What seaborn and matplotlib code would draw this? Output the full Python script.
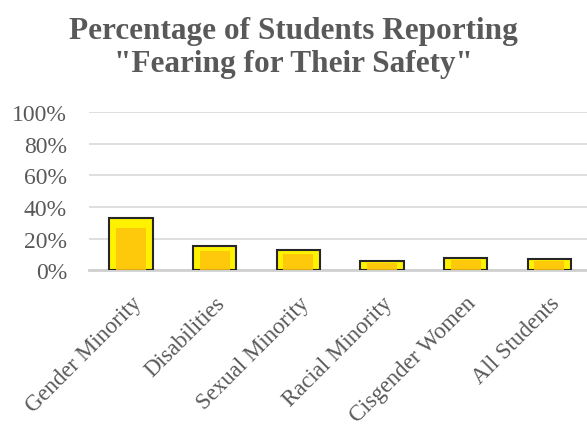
import matplotlib
matplotlib.use("Agg")
import matplotlib.pyplot as plt
import seaborn as sns
import pandas as pd
from matplotlib.ticker import PercentFormatter

categories = ["Gender Minority", "Disabilities", "Sexual Minority",
              "Racial Minority", "Cisgender Women", "All Students"]
values = [0.33, 0.15, 0.13, 0.06, 0.08, 0.07]
yticks = [0, 0.2, 0.4, 0.6, 0.8, 1.0]

df = pd.DataFrame({"cat": categories, "val": values})

sns.set_theme(style="white")
plt.rcParams['font.family'] = ['Liberation Serif', 'DejaVu Serif']

fig = plt.figure(figsize=(5.87, 4.27), dpi=100)
ax = fig.add_axes([0.152, 0.365, 0.855, 0.37])

sns.barplot(data=df, x="cat", y="val", ax=ax, color="#FFF200",
            width=0.52, edgecolor="#262626", linewidth=1.5,
            saturation=1, zorder=3)
# inner bevel shading
inner = df.assign(val=df["val"] * 0.8)
sns.barplot(data=inner, x="cat", y="val", ax=ax, color="#FFC20E",
            width=0.36, linewidth=0, saturation=1, zorder=4, alpha=0.85)

ax.set_ylim(0, 1.0)
ax.set_yticks(yticks)
ax.yaxis.set_major_formatter(PercentFormatter(1.0, decimals=0))
ax.set_xlim(-0.5, len(categories) - 0.5)
ax.grid(axis="y", color="#D9D9D9", linewidth=1.2, zorder=0)
ax.set_axisbelow(True)
for s in ["top", "right", "left"]:
    ax.spines[s].set_visible(False)
ax.spines["bottom"].set_color("#D0D0D0")
ax.spines["bottom"].set_linewidth(2)
ax.spines["bottom"].set_zorder(2)
ax.set_xlabel("")
ax.set_ylabel("")
ax.tick_params(axis="y", labelsize=17, colors="#595959", length=0, pad=16)
ax.tick_params(axis="x", labelsize=16.5, colors="#595959", length=0, pad=16)
plt.setp(ax.get_xticklabels(), rotation=45, ha="right", rotation_mode="anchor")

fig.text(0.5, 0.927, "Percentage of Students Reporting", ha="center", va="center",
         fontsize=22.5, fontweight="bold", color="#595959")
fig.text(0.5, 0.85, "\"Fearing for Their Safety\"", ha="center", va="center",
         fontsize=22.5, fontweight="bold", color="#595959")

fig.savefig("out.png", dpi=100, facecolor="white")
